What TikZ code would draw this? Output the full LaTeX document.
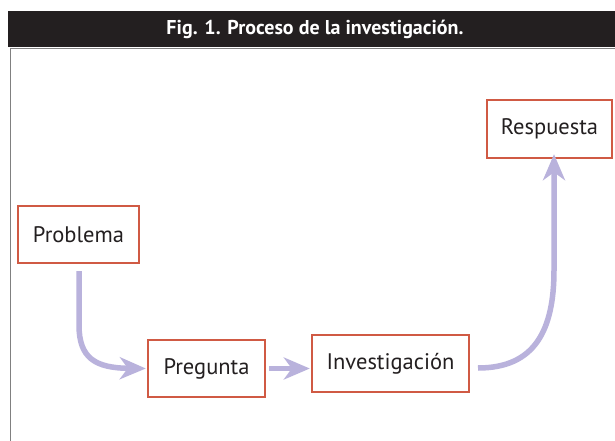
\documentclass[tikz,border=0pt]{standalone}
\usepackage{fontspec}
\setmainfont{PT Sans}
\usetikzlibrary{arrows.meta}
\definecolor{hdr}{HTML}{231F20}
\definecolor{boxred}{HTML}{D05A44}
\definecolor{arr}{HTML}{B9B2DC}
\definecolor{txt}{HTML}{231F20}
\definecolor{frame}{HTML}{808080}
\begin{document}
\begin{tikzpicture}[x=1pt,y=-1pt,
  stepbox/.style={draw=boxred,line width=2.4pt,fill=white,text=txt,
    font=\fontsize{22.5}{26}\selectfont,inner sep=0pt,anchor=center},
  flow/.style={draw=arr,line width=5.5pt,
    -{Stealth[length=26pt,width=22pt,inset=8pt]}}]
\useasboundingbox (0,0) rectangle (615,441);
\fill[white] (0,0) rectangle (615,441);
% header
\fill[hdr] (8,11) rectangle (615,47.5);
\node[text=white,font=\bfseries\fontsize{20}{24}\selectfont] (title) at (315,29) {Fig. 1. Proceso de la investigación.};
\draw[frame,line width=1.5pt] (615,48.5) -- (10.5,48.5) -- (10.5,441);
% boxes
\node[stepbox,minimum width=121pt,minimum height=57pt] (prob) at (78.5,234.5) {Problema};
\node[stepbox,minimum width=117pt,minimum height=57pt] (preg) at (206.5,368.5) {Pregunta};
\node[stepbox,minimum width=157pt,minimum height=57pt] (inv) at (390.5,363.5) {Investigación};
\node[stepbox,minimum width=125pt,minimum height=58pt] (resp) at (549.5,129) {Respuesta};
% connectors
\coordinate (a0) at (79,271);
\draw[flow] (a0) -- (79,325) .. controls (79,358) and (95,368) .. ([xshift=-1pt]preg.west);
\draw[flow] ([xshift=3pt]preg.east) -- ([xshift=-1pt]inv.west|-preg.east);
\coordinate (b0) at (478,368);
\draw[flow] (b0) .. controls (535,368) and (554,330) .. (554,270) -- ([yshift=5pt]resp.south -| 554,0);
\end{tikzpicture}
\end{document}
